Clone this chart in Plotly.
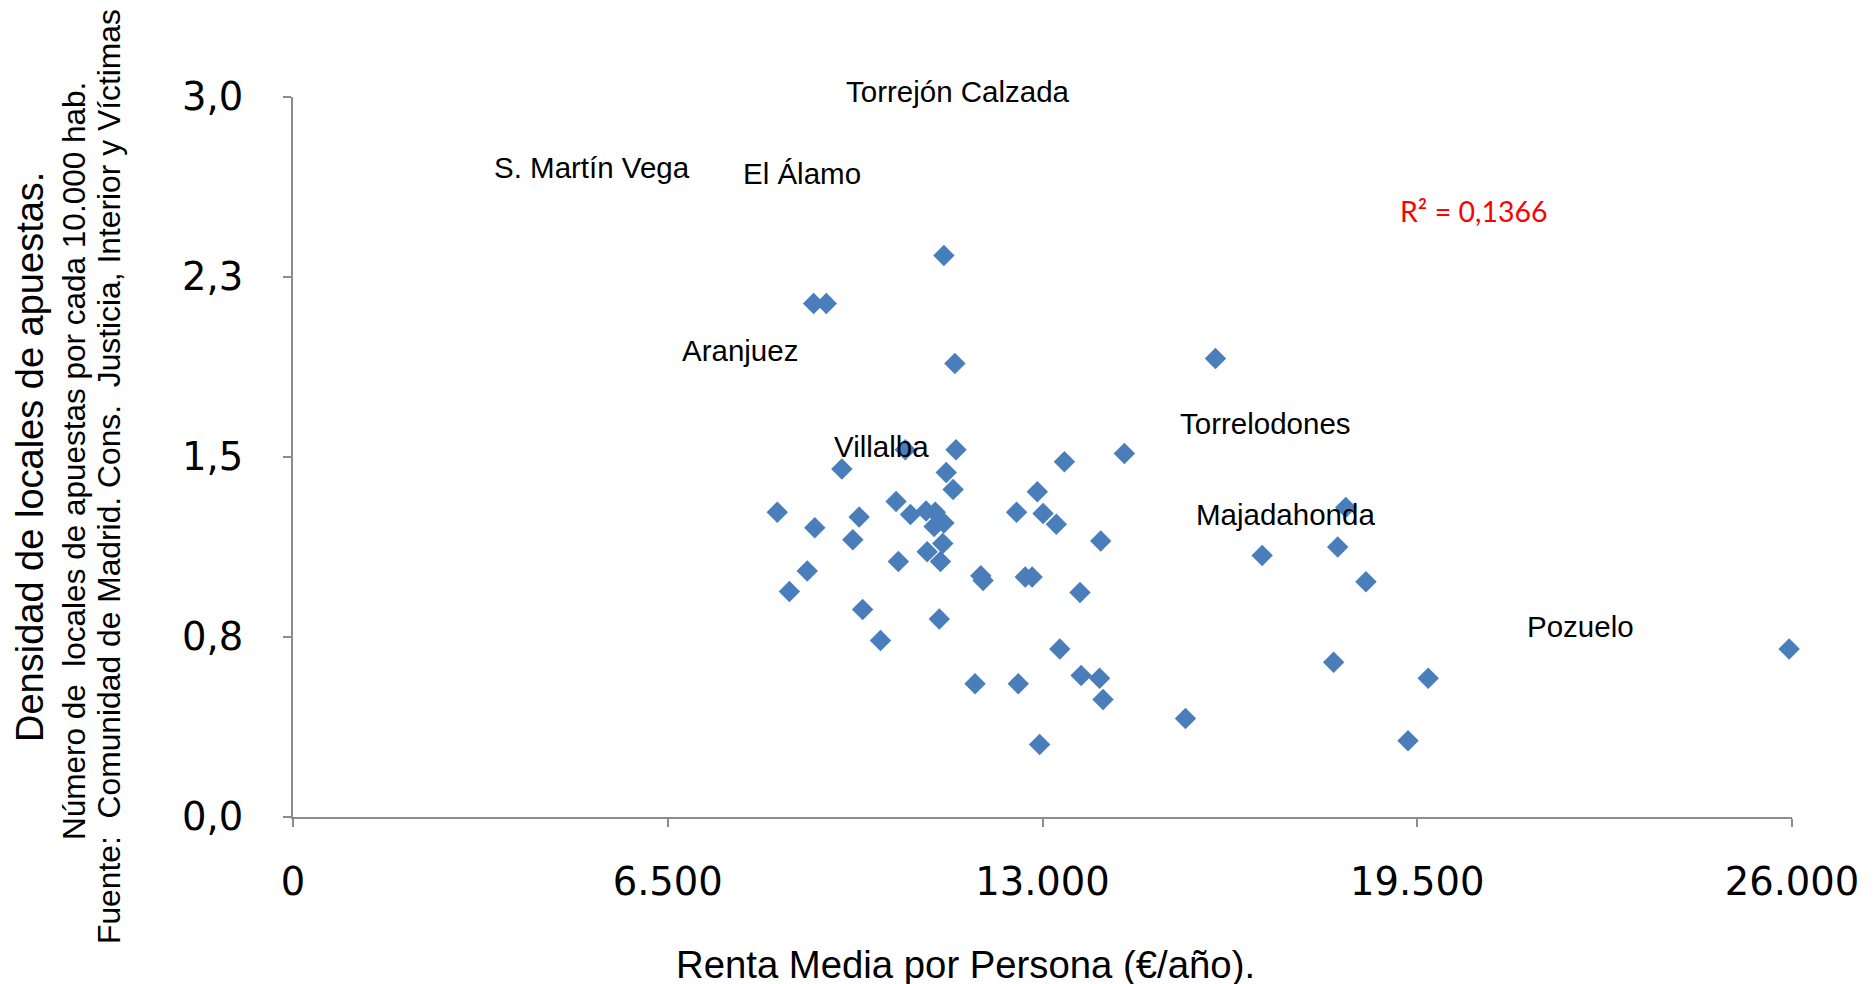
import plotly.graph_objects as go

# renta media por persona (euros/año) and density of betting shops per 10.000 hab.
renta = [11290, 9030, 9250, 11480, 16000, 10620, 11500, 14420, 13380, 9520,
         11330, 11450, 12910, 10460, 8400, 10980, 10710, 11140, 12550, 13010,
         18260, 9820, 9050, 11120, 11290, 13240, 9710, 14010, 11270, 18120,
         11000, 16810, 10500, 11230, 8920, 11930, 11970, 12700, 12820, 18610,
         8610, 13650, 9880, 11210, 10190, 13300, 25950, 18050, 13670, 13990,
         19690, 11830, 12580, 14050, 15480, 19340, 12950]
densidad = [2.34, 2.14, 2.14, 1.89, 1.91, 1.53, 1.53, 1.515, 1.48, 1.45,
            1.435, 1.365, 1.355, 1.315, 1.27, 1.275, 1.26, 1.27, 1.27, 1.265,
            1.29, 1.25, 1.205, 1.21, 1.225, 1.22, 1.155, 1.15, 1.14, 1.125,
            1.105, 1.09, 1.065, 1.065, 1.025, 1.005, 0.985, 1.0, 1.0, 0.98,
            0.94, 0.935, 0.865, 0.825, 0.735, 0.70, 0.70, 0.645, 0.59, 0.578,
            0.578, 0.555, 0.555, 0.49, 0.41, 0.318, 0.302]

# municipality labels as placed on the original chart
label_names = ["Torrejón Calzada", "S. Martín Vega", "El Álamo", "Aranjuez",
               "Villalba", "Torrelodones", "Majadahonda", "Pozuelo"]
label_x = [11540, 5190, 8820, 7760, 10210, 16870, 17220, 22330]
label_y = [3.0, 2.705, 2.68, 1.943, 1.545, 1.639, 1.261, 0.792]

r2_text = "R² = 0,1366"
r2_pos = (20480, 2.526)

x_ticks = [0, 6500, 13000, 19500, 26000]
x_ticktext = ["0", "6.500", "13.000", "19.500", "26.000"]
y_ticks = [0, 0.75, 1.5, 2.25, 3.0]
y_ticktext = ["0,0", "0,8", "1,5", "2,3", "3,0"]

fig = go.Figure()

fig.add_trace(go.Scatter(
    x=renta, y=densidad, mode="markers",
    marker={"symbol": "diamond", "size": 16.5, "color": "#4a7ebb",
            "line": {"width": 0}},
    showlegend=False, cliponaxis=False,
))

label_font = {"family": "Liberation Sans, Arial", "size": 29.5, "color": "black"}
for name, lx, ly in zip(label_names, label_x, label_y):
    # the top label sits just above the axis end
    ys = 6 if ly >= 3.0 else 0
    fig.add_annotation(x=lx, y=ly, text=name, showarrow=False, yshift=ys,
                       xanchor="center", yanchor="middle", font=label_font)

fig.add_annotation(x=r2_pos[0], y=r2_pos[1], text=r2_text, showarrow=False,
                   xanchor="center", yanchor="middle",
                   font={"family": "Lato, Open Sans", "size": 28.5, "color": "#ff0000"})

# rotated three-line y title, placed left of the axis
ytitle = [
    ("Densidad de locales de apuestas.", 38, -263, 0),
    ("Número de  locales de apuestas por cada 10.000 hab.", 31.5, -219, -4),
    ("Fuente:  Comunidad de Madrid. Cons.  Justicia, Interior y Víctimas", 31.8, -184, -20),
]
for txt, fs, xs, ys in ytitle:
    fig.add_annotation(xref="paper", yref="paper", x=0, y=0.5, text=txt,
                       textangle=-90, showarrow=False, xanchor="center",
                       yanchor="middle", xshift=xs, yshift=ys,
                       font={"family": "Liberation Sans, Arial", "size": fs, "color": "black"})

# x title is off-centre in the original
fig.add_annotation(xref="paper", yref="paper", x=0.4489, y=0, yshift=-147,
                   text="Renta Media por Persona (€/año).", showarrow=False,
                   xanchor="center", yanchor="middle",
                   font={"family": "Liberation Sans, Arial", "size": 38.3, "color": "black"})

axis_line = {"showline": True, "linecolor": "#8c8c8c", "linewidth": 2,
             "ticks": "outside", "ticklen": 8, "tickcolor": "#8c8c8c",
             "tickwidth": 1.5, "showgrid": False, "zeroline": False,
             "tickfont": {"family": "DejaVu Sans", "size": 38.5, "color": "black"}}

fig.update_xaxes(range=[0, 26000], tickvals=x_ticks, ticktext=x_ticktext,
                 ticklabelstandoff=22, **axis_line)
fig.update_yaxes(range=[0, 3], tickvals=y_ticks, ticktext=y_ticktext,
                 ticklabelstandoff=32, **axis_line)

fig.update_layout(
    width=1876, height=984,
    margin={"l": 285, "r": 92, "t": 89, "b": 175},
    plot_bgcolor="white", paper_bgcolor="white",
)

fig.write_html("out.html")
